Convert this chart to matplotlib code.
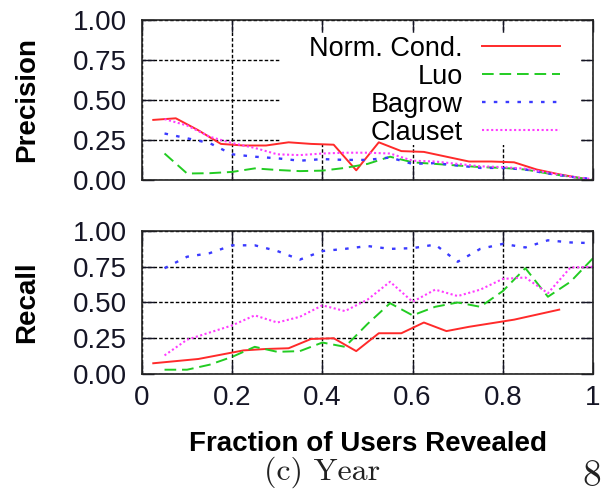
import matplotlib
matplotlib.use("Agg")
import matplotlib.pyplot as plt
from matplotlib.patches import Rectangle

plt.rcParams['font.family'] = ['Liberation Sans', 'DejaVu Sans']

# ---- data ----
x_nc_prec = [0.025, 0.075, 0.125, 0.175, 0.225, 0.275, 0.325, 0.375, 0.425, 0.475,
             0.525, 0.575, 0.625, 0.675, 0.725, 0.775, 0.825, 0.875, 0.925, 0.975]
nc_prec = [0.375, 0.385, 0.31, 0.225, 0.215, 0.215, 0.235, 0.225, 0.22, 0.06,
           0.235, 0.18, 0.175, 0.145, 0.115, 0.115, 0.11, 0.065, 0.035, 0.01]
x_nc_rec = [0.025, 0.075, 0.125, 0.175, 0.225, 0.275, 0.325, 0.375, 0.425, 0.475,
            0.525, 0.575, 0.625, 0.675, 0.725, 0.775, 0.825, 0.875, 0.925]
nc_rec = [0.075, 0.09, 0.105, 0.135, 0.165, 0.175, 0.18, 0.245, 0.25, 0.16,
          0.285, 0.285, 0.36, 0.30, 0.33, 0.355, 0.38, 0.415, 0.45]

x_other = [0.05, 0.10, 0.15, 0.20, 0.25, 0.30, 0.35, 0.40, 0.45, 0.50,
           0.55, 0.60, 0.65, 0.70, 0.75, 0.80, 0.85, 0.90, 0.95, 1.00]
luo_prec = [0.165, 0.04, 0.042, 0.05, 0.072, 0.062, 0.055, 0.058, 0.075, 0.10,
            0.145, 0.11, 0.10, 0.09, 0.08, 0.075, 0.065, 0.04, 0.02, 0.0]
bagrow_prec = [0.29, 0.26, 0.23, 0.16, 0.145, 0.135, 0.12, 0.13, 0.125, 0.125,
               0.14, 0.10, 0.105, 0.09, 0.075, 0.075, 0.065, 0.04, 0.02, 0.005]
clauset_prec = [0.38, 0.34, 0.27, 0.23, 0.20, 0.16, 0.155, 0.165, 0.17, 0.17,
                0.165, 0.12, 0.115, 0.10, 0.085, 0.08, 0.07, 0.045, 0.02, 0.005]
luo_rec = [0.03, 0.03, 0.065, 0.12, 0.19, 0.155, 0.16, 0.22, 0.19, 0.35,
           0.495, 0.41, 0.47, 0.50, 0.47, 0.58, 0.74, 0.54, 0.645, 0.81]
bagrow_rec = [0.74, 0.82, 0.845, 0.90, 0.90, 0.86, 0.80, 0.86, 0.875, 0.895,
              0.875, 0.88, 0.905, 0.785, 0.875, 0.91, 0.885, 0.935, 0.92, 0.915]
clauset_rec = [0.13, 0.24, 0.29, 0.34, 0.41, 0.36, 0.40, 0.48, 0.44, 0.52,
               0.645, 0.505, 0.59, 0.545, 0.59, 0.665, 0.675, 0.565, 0.745, 0.75]

labels = ["Norm. Cond.", "Luo", "Bagrow", "Clauset"]
yticks = [0.0, 0.25, 0.5, 0.75, 1.0]
ytick_labels = ["0.00", "0.25", "0.50", "0.75", "1.00"]
xticks = [0.0, 0.2, 0.4, 0.6, 0.8, 1.0]
xtick_labels = ["0", "0.2", "0.4", "0.6", "0.8", "1"]

# ---- styles ----
st_nc = dict(color='#ff2a2a', lw=1.4, ls='-')
st_luo = dict(color='#22cc22', lw=1.4, ls=(0, (6, 3)))
st_bag = dict(color='#3a3aff', lw=1.7, ls=(0, (1.5, 3.5)))
st_cla = dict(color='#ff3cff', lw=1.5, ls=(0, (1, 1.2)))

fig = plt.figure(figsize=(6.12, 4.97), dpi=100)
ax1 = fig.add_axes([0.232, 0.638, 0.737, 0.322])
ax2 = fig.add_axes([0.232, 0.2475, 0.737, 0.2877])

TICK_FS = 20
LAB_FS = 20
LEG_FS = 19.5

for ax in (ax1, ax2):
    ax.set_xlim(0, 1)
    ax.set_ylim(0, 1)
    ax.set_axisbelow(True)
    ax.set_yticks(yticks)
    ax.set_yticklabels(ytick_labels)
    ax.set_xticks(xticks)
    ax.grid(True, color='black', lw=1.0, ls=(0, (2.5, 1.5)))
    ax.tick_params(direction='in', length=8.5, width=1.0, top=True, right=True,
                   labelsize=TICK_FS, colors='#151525')
    ax.tick_params(axis='y', pad=11)
    ax.tick_params(axis='x', pad=8)
    for sp in ax.spines.values():
        sp.set_linewidth(1.2)
        sp.set_color('#222222')

ax1.set_xticklabels([])
ax2.set_xticklabels(xtick_labels)

# top panel
h1, = ax1.plot(x_nc_prec, nc_prec, **st_nc)
h2, = ax1.plot(x_other, luo_prec, **st_luo)
h3, = ax1.plot(x_other, bagrow_prec, **st_bag)
h4, = ax1.plot(x_other, clauset_prec, **st_cla)

# white key background hiding the grid
ax1.add_patch(Rectangle((0.306, 0.219), 0.665, 0.70, transform=ax1.transAxes,
                        facecolor='white', edgecolor='none', zorder=1))

leg = ax1.legend([h1, h2, h3, h4], labels, loc='upper right',
                 bbox_to_anchor=(0.927, 0.90), frameon=False, markerfirst=False,
                 handlelength=2.9, handletextpad=0.7, labelspacing=0.075,
                 borderpad=0.0, borderaxespad=0.0, fontsize=LEG_FS)

# bottom panel
ax2.plot(x_nc_rec, nc_rec, **st_nc)
ax2.plot(x_other, luo_rec, **st_luo)
ax2.plot(x_other, bagrow_rec, **st_bag)
ax2.plot(x_other, clauset_rec, **st_cla)

ax1.set_ylabel("Precision", fontsize=LAB_FS, fontweight='bold')
ax2.set_ylabel("Recall", fontsize=LAB_FS, fontweight='bold')
ax1.yaxis.set_label_coords(-0.226, 0.5)
ax2.yaxis.set_label_coords(-0.226, 0.5)
ax2.set_xlabel("Fraction of Users Revealed", fontsize=LAB_FS, fontweight='bold',
               labelpad=14)

fig.text(322 / 612, 1 - 472 / 497, "(c) Year", family=['cmr10', 'DejaVu Serif'],
         fontsize=23, ha='center', va='center', color='#222222')
fig.text(592 / 612, 1 - 476 / 497, "8", family=['cmr10', 'DejaVu Serif'],
         fontsize=27, ha='center', va='center', color='#222222')

fig.savefig("out.png", dpi=100)
